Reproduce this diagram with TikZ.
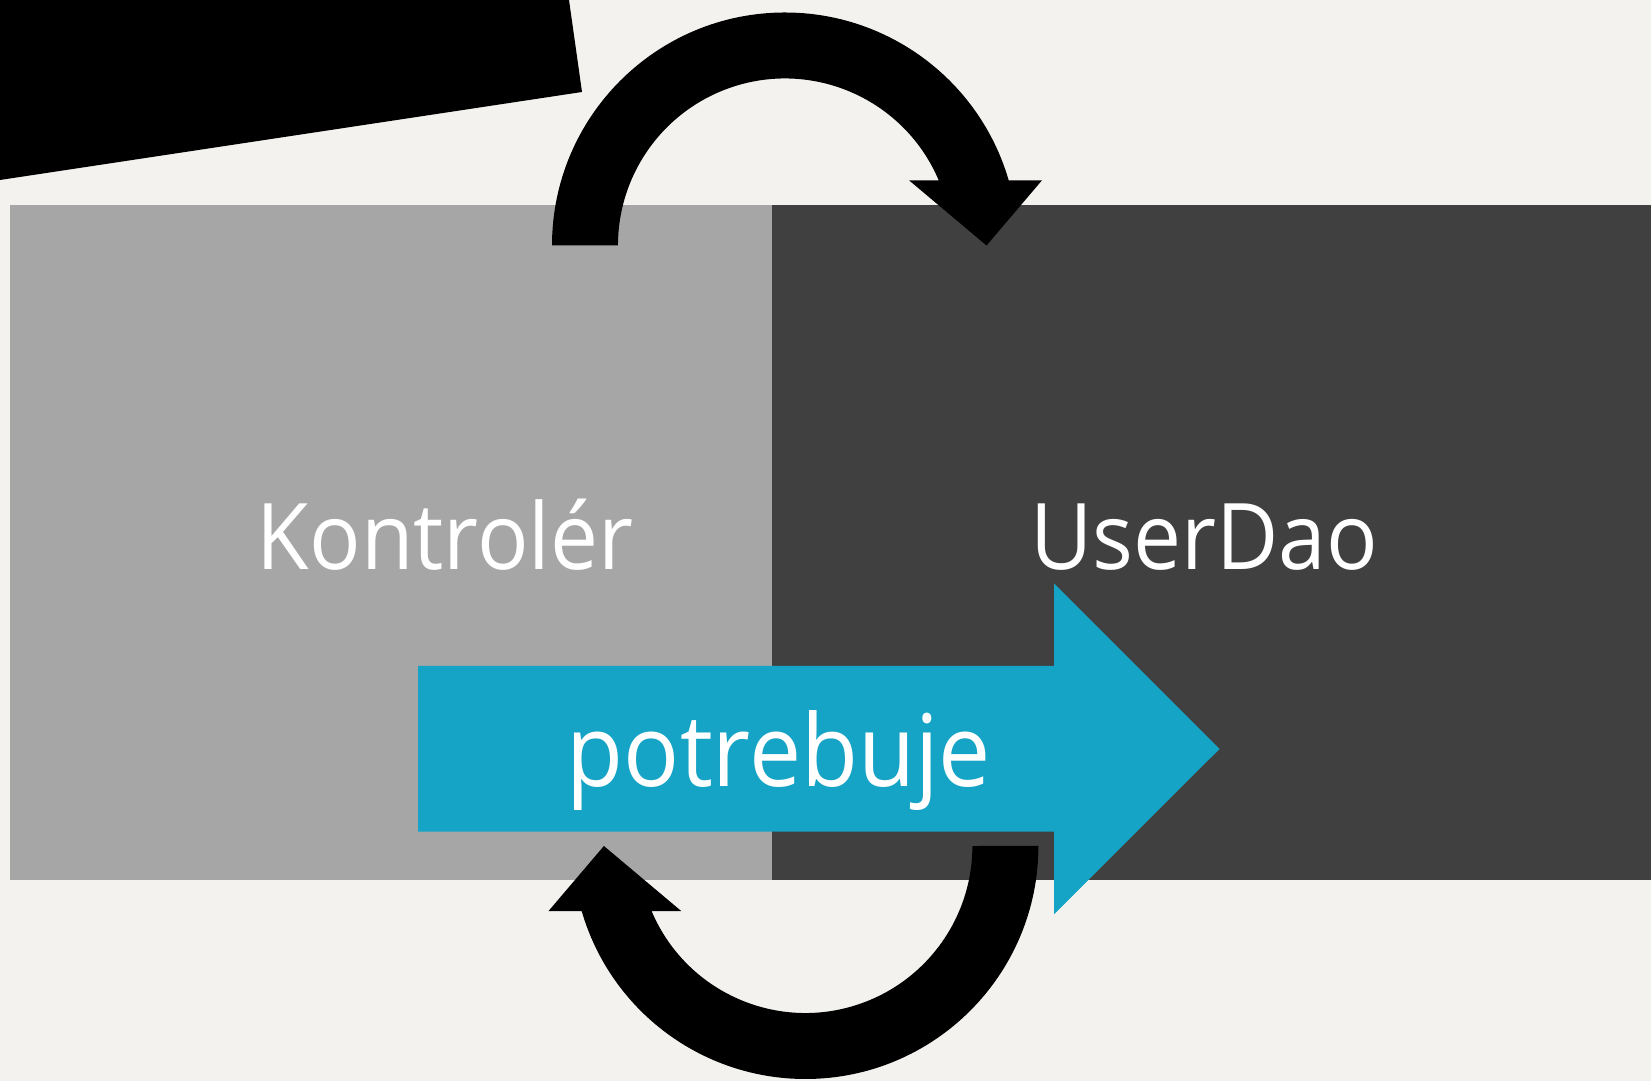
\documentclass[tikz,border=0pt]{standalone}
\usepackage{fontspec}
\newfontfamily\lblfont[FakeStretch=0.93]{Open Sans}
\definecolor{bgc}{RGB}{243,242,238}
\definecolor{boxgray}{RGB}{166,166,166}
\definecolor{boxdark}{RGB}{64,64,64}
\definecolor{arrowblue}{RGB}{21,163,198}
\tikzset{
  panel/.style={rectangle, inner sep=0pt, outer sep=0pt, draw=none, anchor=north west, minimum height=675pt},
  bigtext/.style={text=white, inner sep=0pt, anchor=base, font=\lblfont\fontsize{92}{110}\selectfont},
  arrowtext/.style={text=white, inner sep=0pt, anchor=base, font=\lblfont\fontsize{100}{120}\selectfont},
  loop/.style={fill=black, draw=none}
}
\begin{document}
\begin{tikzpicture}[x=1pt,y=1pt]
\useasboundingbox (0,0) rectangle (1651,1081);
\fill[bgc] (0,0) rectangle (1651,1081);
% black bar top-left
\fill[black] (0,1081) -- (569,1081) -- (582,989) -- (0,901) -- cycle;
% panels
\node[panel, fill=boxgray, minimum width=762pt] (ctrl) at (10,876) {};
\node[panel, fill=boxdark, minimum width=879pt] (dao) at (772,876) {};
\node[bigtext] (ctrltext) at (445,511) {Kontrolér};
\node[bigtext] (daotext) at (1204,511) {UserDao};
% blue arrow
\fill[arrowblue] (418,415) -- (1054,415) -- (1054,497.7) -- (1219.5,332) -- (1054,166.7) -- (1054,249.3) -- (418,249.3) -- cycle;
\node[arrowtext] (needs) at (779,294) {potrebuje};
% top circular arrow
\fill[loop] (552,835.5) arc[start angle=180, end angle=16.25, radius=233pt] -- (1042,900.7) -- (986.5,835.5) -- (909,900.7) -- (938.7,900.7) arc[start angle=22.98, end angle=180, radius=167pt] -- cycle;
% bottom circular arrow
\fill[loop] (1038.4,235) arc[start angle=0, end angle=-163.75, radius=233pt] -- (548.4,169.8) -- (603.9,235) -- (681.4,169.8) -- (651.64,169.8) arc[start angle=-157.02, end angle=0, radius=167pt] -- cycle;
\end{tikzpicture}
\end{document}
